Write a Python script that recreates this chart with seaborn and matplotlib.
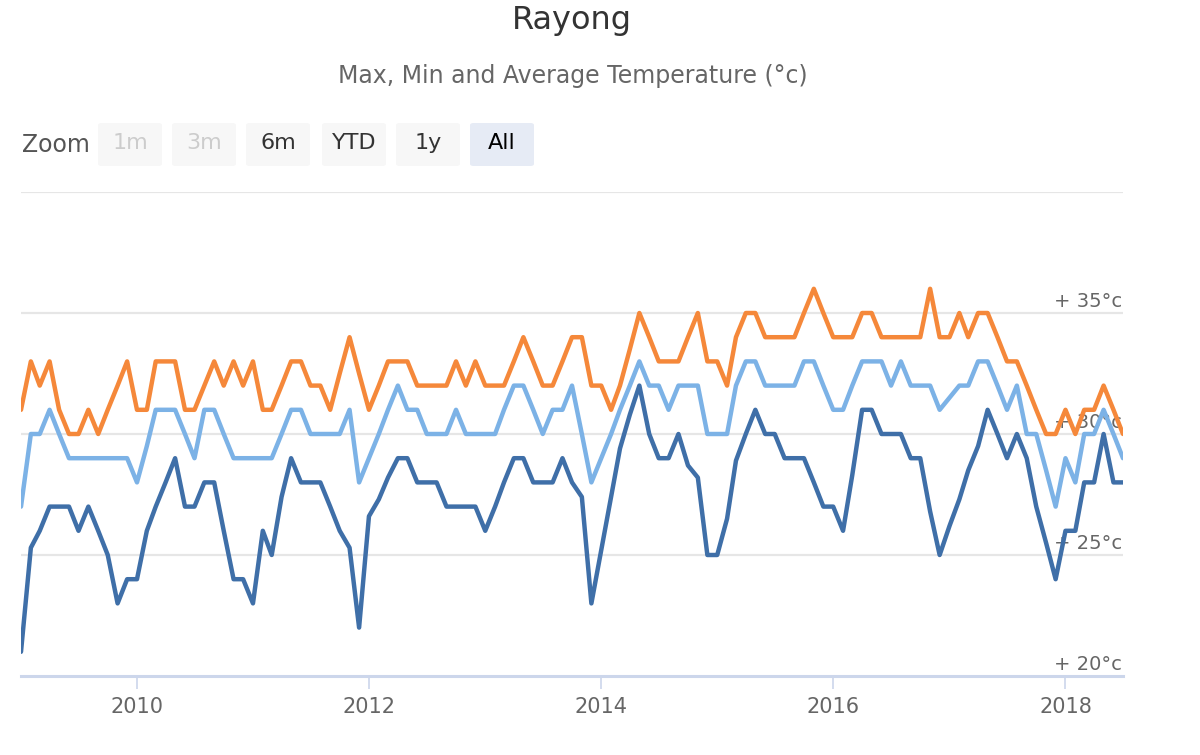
import matplotlib
matplotlib.use("Agg")
import matplotlib.pyplot as plt
from matplotlib.patches import FancyBboxPatch
import seaborn as sns
import pandas as pd

# Monthly readings, Jan 2009 .. Jul 2018
start_month = "2009-01-01"
n_months = 115

max_temp = [
    31, 33, 32, 33, 31, 30, 30, 31, 30, 31,
    32, 33, 31, 31, 33, 33, 33, 31, 31, 32,
    33, 32, 33, 32, 33, 31, 31, 32, 33, 33,
    32, 32, 31, 32.5, 34, 32.5, 31, 32, 33, 33,
    33, 32, 32, 32, 32, 33, 32, 33, 32, 32,
    32, 33, 34, 33, 32, 32, 33, 34, 34, 32,
    32, 31, 32, 33.5, 35, 34, 33, 33, 33, 34,
    35, 33, 33, 32, 34, 35, 35, 34, 34, 34,
    34, 35, 36, 35, 34, 34, 34, 35, 35, 34,
    34, 34, 34, 34, 36, 34, 34, 35, 34, 35,
    35, 34, 33, 33, 32, 31, 30, 30, 31, 30,
    31, 31, 32, 31, 30,
]
avg_temp = [
    27, 30, 30, 31, 30, 29, 29, 29, 29, 29,
    29, 29, 28, 29.5, 31, 31, 31, 30, 29, 31,
    31, 30, 29, 29, 29, 29, 29, 30, 31, 31,
    30, 30, 30, 30, 31, 28, 29, 30, 31, 32,
    31, 31, 30, 30, 30, 31, 30, 30, 30, 30,
    31, 32, 32, 31, 30, 31, 31, 32, 30, 28,
    29, 30, 31, 32, 33, 32, 32, 31, 32, 32,
    32, 30, 30, 30, 32, 33, 33, 32, 32, 32,
    32, 33, 33, 32, 31, 31, 32, 33, 33, 33,
    32, 33, 32, 32, 32, 31, 31.5, 32, 32, 33,
    33, 32, 31, 32, 30, 30, 28.5, 27, 29, 28,
    30, 30, 31, 30, 29,
]
min_temp = [
    21, 25.3, 26, 27, 27, 27, 26, 27, 26, 25,
    23, 24, 24, 26, 27, 28, 29, 27, 27, 28,
    28, 26, 24, 24, 23, 26, 25, 27.4, 29, 28,
    28, 28, 27, 26, 25.3, 22, 26.6, 27.3, 28.2, 29,
    29, 28, 28, 28, 27, 27, 27, 27, 26, 27,
    28, 29, 29, 28, 28, 28, 29, 28, 27.4, 23,
    25.2, 27.4, 29.4, 30.8, 32, 30, 29, 29, 30, 28.7,
    28.2, 25, 25, 26.5, 28.9, 30, 31, 30, 30, 29,
    29, 29, 28, 27, 27, 26, 28.3, 31, 31, 30,
    30, 30, 29, 29, 26.8, 25, 26.2, 27.3, 28.5, 29.5,
    31, 30, 29, 30, 29, 27, 25.5, 24, 26, 26,
    28, 28, 30, 28, 28,
]

series_names = ["Min", "Average", "Max"]
palette = {"Min": "#3f6fa8", "Average": "#7cb2e6", "Max": "#f5883a"}
year_ticks = ["2010", "2012", "2014", "2016", "2018"]
y_gridlines = [25, 30, 35, 40]
y_labels = {20: "+ 20°c", 25: "+ 25°c", 30: "+ 30°c", 35: "+ 35°c"}
buttons = ["1m", "3m", "6m", "YTD", "1y", "All"]

months = pd.date_range(start_month, periods=n_months, freq="MS")
df = pd.concat([
    pd.DataFrame({"date": months, "temp": min_temp, "series": "Min"}),
    pd.DataFrame({"date": months, "temp": avg_temp, "series": "Average"}),
    pd.DataFrame({"date": months, "temp": max_temp, "series": "Max"}),
])

sns.set_theme(style="white")
plt.rcParams["font.family"] = ["DejaVu Sans"]

W, H = 1200, 755
fig = plt.figure(figsize=(W / 100, H / 100), dpi=100)
ax = fig.add_axes([21 / W, 1 - 676 / H, (1123 - 21) / W, (676 - 192) / H])

sns.lineplot(data=df, x="date", y="temp", hue="series", hue_order=series_names,
             palette=palette, linewidth=3.2, legend=False, ax=ax,
             solid_joinstyle="round", solid_capstyle="round", zorder=3)

ax.set_xlim(months[0], months[-1])
ax.set_ylim(20, 40)
for v in y_gridlines:
    ax.axhline(v, color="#e6e6e6", lw=1.6, zorder=1)

ax.set_yticks([])
ax.set_xlabel("")
ax.set_ylabel("")
for side in ["top", "left", "right"]:
    ax.spines[side].set_visible(False)
ax.spines["bottom"].set_color("#ccd6eb")
ax.spines["bottom"].set_linewidth(2.2)

ax.set_xticks([pd.Timestamp(f"{y}-01-01") for y in year_ticks])
ax.set_xticklabels(year_ticks)
ax.tick_params(axis="x", length=9, width=1.2, color="#ccd6eb", colors="#666666",
               labelsize=15, pad=6, bottom=True)
for lab in ax.get_xticklabels():
    lab.set_color("#666666")

for v, txt in y_labels.items():
    ax.annotate(txt, xy=(1, v), xycoords=ax.get_yaxis_transform(),
                xytext=(-1, 2), textcoords="offset pixels", ha="right", va="bottom",
                fontsize=14, color="#666666", zorder=2)

# title + subtitle
fig.text(572 / W, 1 - 21 / H, "Rayong", ha="center", va="center",
         fontsize=23, color="#333333")
fig.text(573 / W, 1 - 76 / H, "Max, Min and Average Temperature (°c)",
         ha="center", va="center", fontsize=17, color="#666666")

# range selector (static)
fig.text(22 / W, 1 - 145 / H, "Zoom", ha="left", va="center", fontsize=17,
         color="#555555")
for k, b in enumerate(buttons):
    x0 = 98 + 74 * k + (2 if k >= 3 else 0)
    selected = b == "All"
    disabled = b in ("1m", "3m")
    box = FancyBboxPatch((x0 / W, 1 - 166 / H), 64 / W, 43 / H,
                         boxstyle="round,pad=0,rounding_size=0.003",
                         transform=fig.transFigure,
                         facecolor="#e6ebf5" if selected else "#f7f7f7",
                         edgecolor="none")
    fig.patches.append(box)
    fig.text((x0 + 32) / W, 1 - 143 / H, b, ha="center", va="center", fontsize=16,
             color="#cccccc" if disabled else ("#000000" if selected else "#333333"))

fig.savefig("out.png", dpi=100)
